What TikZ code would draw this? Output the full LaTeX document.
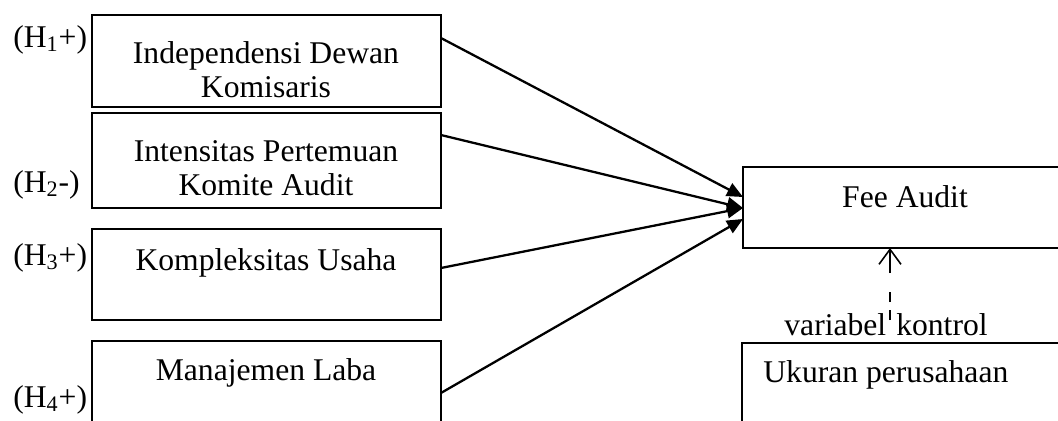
\documentclass[tikz,border=0pt]{standalone}
\usepackage{fontspec}
\setmainfont{Liberation Serif}
\usetikzlibrary{arrows.meta}

\tikzset{
  kotak/.style={draw=black,line width=1.1pt,inner sep=0pt,outer sep=0pt,anchor=north west},
  teks/.style={font=\fontsize{18}{19}\selectfont,inner sep=0pt,anchor=base,align=center},
  panah/.style={line width=1.3pt,-{Triangle[length=0.32cm,width=0.28cm]}},
}

\begin{document}
\begin{tikzpicture}[x=0.02cm,y=-0.02cm]
\useasboundingbox (0,0) rectangle (1058,420);
%
% variabel independen
\node[kotak,minimum width=6.98cm,minimum height=1.84cm] (b1) at (92,15) {};
\node[teks] (t1) at (266,97) {Independensi Dewan\\Komisaris};

\node[kotak,minimum width=6.98cm,minimum height=1.9cm] (b2) at (92,113) {};
\node[teks] (t2) at (266,195) {Intensitas Pertemuan\\Komite Audit};

\node[kotak,minimum width=6.98cm,minimum height=1.82cm] (b3) at (92,229) {};
\node[teks] (t3) at (266,270) {Kompleksitas Usaha};

\node[kotak,minimum width=6.98cm,minimum height=1.82cm] (b4) at (92,341) {};
\node[teks] (t4) at (266,380) {Manajemen Laba};
%
% hipotesis
\node[teks,anchor=base west] (h1) at (13,47) {(H\textsubscript{1}+)};
\node[teks,anchor=base west] (h2) at (13,192) {(H\textsubscript{2}-)};
\node[teks,anchor=base west] (h3) at (13,265) {(H\textsubscript{3}+)};
\node[teks,anchor=base west] (h4) at (13,407) {(H\textsubscript{4}+)};
%
% variabel dependen
\node[kotak,minimum width=6.48cm,minimum height=1.62cm] (fee) at (743,167) {};
\node[teks] (tfee) at (905,207) {Fee Audit};
%
% variabel kontrol
\node[kotak,line width=0.6pt,minimum width=6.5cm,minimum height=1.8cm] (uk) at (742,343) {};
\node[teks,anchor=base west] (tuk) at (763,382) {Ukuran perusahaan};
\node[teks] (kontrol) at (886,335) {variabel\hspace{0.2cm}kontrol};
\coordinate (ctl) at (890,320);
%
% panah
\draw[panah] (b1.east |- 0,38) -- (fee.west |- 0,197);
\draw[panah] (b2.east |- 0,135) -- (fee.west |- 0,208);
\draw[panah] (b3.east |- 0,268) -- (fee.west |- 0,208);
\draw[panah] (b4.east |- 0,393) -- (fee.west |- 0,219);
\draw[line width=0.9pt,dash pattern=on 0.2cm off 0.16cm on 0.2cm off 0.38cm on 0.46cm,
      -{Straight Barb[length=0.3cm,width=0.44cm]}] (ctl) -- (fee.south -| ctl);

\end{tikzpicture}
\end{document}
